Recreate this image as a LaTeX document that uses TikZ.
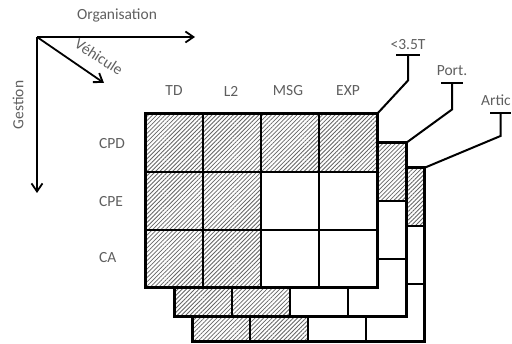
\documentclass[tikz,border=0pt]{standalone}
\usepackage{fontspec}
\setmainfont{Carlito}
\usetikzlibrary{arrows.meta,patterns.meta}
\definecolor{txtgray}{RGB}{95,95,95}

\begin{document}
\begin{tikzpicture}[x=1pt,y=-1pt]
        \tikzset{lbl/.style={text=txtgray,font=\fontsize{15.5}{18}\selectfont,inner sep=0pt},
            hatch/.style={pattern={Lines[angle=45,distance=3pt,line width=0.8pt]},pattern color=black!60},
            frame/.style={line width=3pt},
            cellline/.style={line width=1.5pt},
            axis/.style={line width=1.8pt,-{Straight Barb[length=8pt,width=11pt,line width=1.8pt]}},
            tagline/.style={line width=2pt}}
        \useasboundingbox (0,0) rectangle (512,344);
        \foreach \lay/\dx/\dy in {artic/47/54,port/29/29,small/0/0}{
            \begin{scope}[shift={(\dx,\dy)}]
                \fill[white] (145,114) rectangle (377,288);
                \foreach \c/\r in {0/0,1/0,2/0,3/0,0/1,1/1,0/2,1/2}
                    \fill[hatch] (145+58*\c,114+58*\r) rectangle ++(58,58);
                \foreach \c in {1,2,3}
                    \draw[cellline] (145+58*\c,114) -- ++(0,174);
                \foreach \r in {1,2}
                    \draw[cellline] (145,114+58*\r) -- ++(232,0);
                \draw[frame] (145,114) rectangle (377,288);
                \coordinate (\lay-ne) at (377,114);
            \end{scope}
        }
        \coordinate (o) at (37,37);
        \coordinate (org) at (195,37);
        \coordinate (ges) at (37,193);
        \coordinate (veh) at (104,83);
        \draw[axis] (o) -- (org);
        \draw[axis] (o) -- (ges);
        \draw[axis] (o) -- (veh);
        \node[lbl] (organisation) at (117,15) {Organisation};
        \node[lbl,rotate=90] (gestion) at (18,105) {Gestion};
        \node[lbl,rotate=-33] (vehicule) at (99,57) {Véhicule};
        \node[lbl] (td) at (174,91) {TD};
        \node[lbl] (l2) at (231,91) {L2};
        \node[lbl] (msg) at (288,91) {MSG};
        \node[lbl] (exp) at (348,91) {EXP};
        \node[lbl,anchor=west] (cpd) at (99,144) {CPD};
        \node[lbl,anchor=west] (cpe) at (99,202) {CPE};
        \node[lbl,anchor=west] (ca) at (99,258) {CA};
        \node[lbl] (small) at (408,45) {<3.5T};
        \node[lbl] (porteur) at (452,71) {Port.};
        \node[lbl,anchor=west] (artic) at (481,100) {Artic};
        \coordinate (small-bar) at (408,55.5);
        \coordinate (port-bar) at (452,83.5);
        \coordinate (artic-bar) at (500.5,113);
        \draw[tagline] ([xshift=-12pt]small-bar) -- ([xshift=12pt]small-bar);
        \draw[tagline] ([xshift=-11pt]port-bar) -- ([xshift=11pt]port-bar);
        \draw[tagline] ([xshift=-10.5pt]artic-bar) -- ([xshift=10.5pt]artic-bar);
        \draw[tagline] (small-bar) -- ++(0,25) -- (small-ne);
        \draw[tagline] (port-bar) -- ++(0,26) -- (port-ne);
        \draw[tagline] (artic-bar) -- ++(0,23) -- (artic-ne);
    \end{tikzpicture}
\end{document}
